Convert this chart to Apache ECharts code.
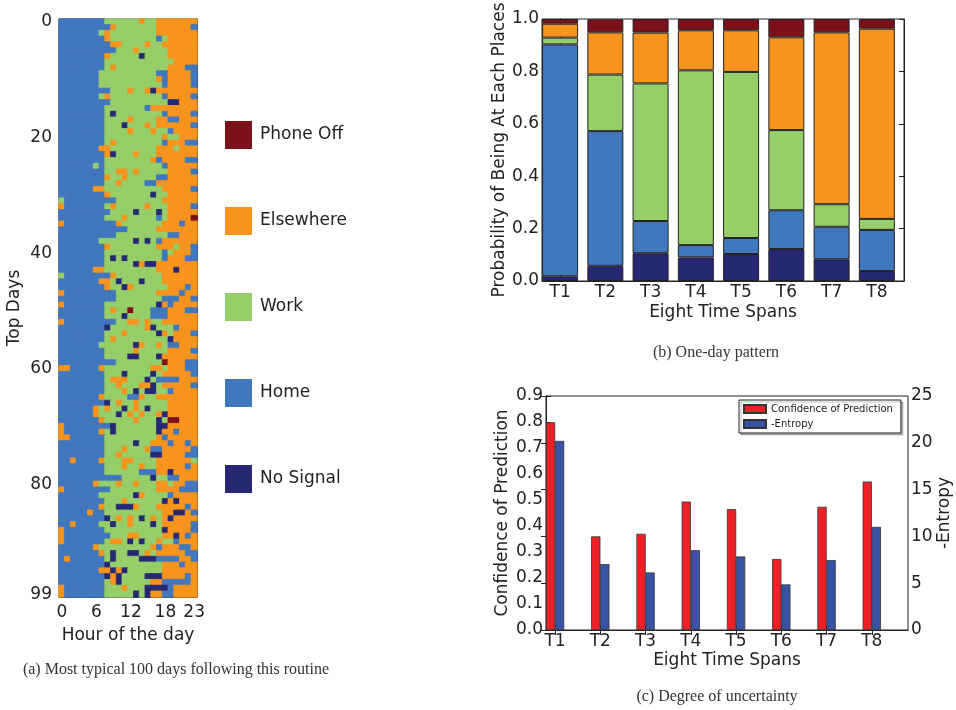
<!DOCTYPE html>
<html><head><meta charset="utf-8">
<script src="https://cdn.jsdelivr.net/npm/echarts@6.0.0/dist/echarts.min.js"></script>
<style>html,body{margin:0;padding:0;background:#fff}#c{width:956px;height:710px}</style>
</head><body><div id="c"></div>
<script>
// ---------- (a) heatmap data ----------
const hourLabels = ['0','1','2','3','4','5','6','7','8','9','10','11','12','13','14','15','16','17','18','19','20','21','22','23'];
const hourTickLabels = [0, 6, 12, 18, 23];
const dayTickLabels = [0, 20, 40, 60, 80, 99];
const placeNames = ['No Signal', 'Home', 'Work', 'Elsewhere', 'Phone Off'];
const placeCode = {N: 0, H: 1, W: 2, E: 3, O: 4};
// one string per day (row), one letter per hour: H home, W work, E elsewhere, N no signal, O phone off
const dayRows = [
'HHHHHHHH WWWWWWEWW EEEEEEE','HHHHHHHH HEWWWWWWW EEEEEEH','HHHHHHHW EWWWWWWWW EEEEEEE','HHHHHHHH EWWWWWWWW HWEEEEE',
'HHHHHHHH HEEWWWWEW WEEEEEE','HHHHHHHH HHWWWEWWW WWEEEEE','HHHHHHHH EWWWWWNWW WWEEEEE','HHHHHHHH WWWWWWWWW WWWEEEE',
'HHHHHHHH WEWWWWWWW WWEEEHH','HHHHHHHW WWWWWWWWW HHEEEEH','HHHHHHHW WWWWWWWWW EHEEEEH','HHHHHHHW WWWWWWWWW WHEEEEH',
'HHHHHHHH HWWWEWWEN EEEEEEE','HHHHHHHW EWWWWWWWW WHEEEEH','HHHHHHHH HWWWWWWWW WWNNEEE','HHHHHHHH WWWWWWWHE EEEEEEE',
'HHHHHHHH WNWWWWWWW WHEEEEH','HHHHHHHH WWWWEWWWW EEHHEEE','HHHHHHHH WWWNWWWEW EEEEEEH','HHHHHHHH WWWWEWWWE WWHEEEE',
'HHHHHHHH WWWWWWWWW WEWWEEE','HHHHHHHH WEWWWWWWW WHEEEHH','HHHHHHHE EWWWWWWWW EEEWEEE','HHHHHHHH ENWWWEWWW EEEEEEE',
'HHHHHHHH WWWWWWWWE HEEEEHH','HHHHHHWH WWWWWWWWW WHEEEEE','HHHHHHHH WWEEWEWWW WWEEEEH','HHHHHHHH EWWEWWWWW HHEEEEE',
'HHHHHHHH WWEWWWWHH EEEEEEE','HHHHHHEE WWWWWWWWW WEEEEEH','HHHHHHHH EWWWWWWWN WWEEEEE','WHHHHHHH HHWWWWWWW WEEEEEE',
'EHHHHHHH WEWWWWWEW WWEEEEH','HHHHHHHH HWWWWNWWW NWEEEEE','HHHHHHHH WWWEWWWWW HWEEEEO','EHHHHHHH HHEWWWWWW WEEEHEE',
'HHHHHHHH HHHHWWWWW EEEEEEE','HHHHHHHH HHWWWWWWW WWHHEEE','HHHHHHHW WWWWWNWNW HEEEEEE','HHHHHHHH EWWWWWWWW EEEWEEH',
'HHHHHHHH WWWWWWWWW WHWEEEH','HHHHHHHH WNWNWWWWW WHEEEHH','HHHHHHHH WWWWWNENN EEEEEEE','HHHHHHEE WWWWWWWWW EEENEEE',
'WHHHHHHH HEWWWWWWW WEEEEEE','HHHHHHHE EWNWWWNWW WEEEEEE','HHHHHHHH EWWNEWWWW WWEEEHE','EHHHHHHH HHWWWWWWW EEEEHEE',
'HHHHHHHH HHWWWWWWW WHHHEEH','EHHHHHHH WWWWWWWWW NEHEEEE','HHHHHHHH WEWWOWWWH HHEEEHH','HHHHHHHH WWWNWWWWH HHEEEEE',
'EHHHHHHH HHWWEEWEW WEEEEEE','HHHHHHHH NWWWWWWEN WWWHEEE','HHHHHHHH WWWEWWWWW NEWEEEH','HHHHHHHH WEWWWWWWW WWNEEEE',
'HHHHHHHW WWWWWNEWW EWHHEEE','HHHHHHHH WWWWWEWWW WWEEEEH','HHHHHHHH WWWWNNWWW NEEEEEE','HHHHHHHH HHWWWWWWW WOEEEHH',
'EEHHHHHE WWWWWWWWE EWEEEHH','HHHHHHHH WWWNWWWWN WEEEEEH','HHHHHHHH WEEEWWWNW HHHHEEE','HHHHHHHH WWEWWWEEN WEEEEEH',
'HHHHHHHH WWWEWNWNN WWHEEEE','HHHHHHHE WWWWHHEWW EEEEEEE','HHHHHHHH NWEWWEWWW WWEEEEE','HHHHHHEW EWWNWEWNW WWEEEEE',
'HHHHHHEW WWNWEWEWW ENEEEEE','HHHHHHHE WWWWWEWWW NWOOEEE','EHHHHHHH HNWWWWWWW NNEEEEE','EHHHHHHE WNWWWWWWW NEEHEEE',
'EEHHHHHH WWWWWWWWW EHEEEEE','HHHHHHHH WWWWWNWWE EEHEEHE','HHHHHHHH WWWEWWWEH HEEEEEH','HHHHHHHH WWEWWWWWN NEEEEHH',
'HHEHHHHE WWWEEWWWW EEEEEEW','HHHHHHHH WWWEWWEWW EEEEEHE','HHHHHHHH WWWWWWHHH EENEEEE','HHHHHHHH HHHWWWWWN WWHHEEE',
'HHHHHHEW WWEWWEWWW EEWEEHH','EHHHHHHH HWWWWWWWW EEEEHHH','HHHHHHHW WWWWWNEWW WWHEEEE','HHHHHHHH WWWEWWWWW WNENEEE',
'HHHHHHHE WWNNNEWWW EEEEEHE','HHHHHEHH WWWWWWWWW WEENNEH','HHHHHHHH NWEWEWNWE WENEEEE','HHEHHHHW WNWWEWWWN WEEEEEH',
'EHHHHHHH WWWWWWWWW WNEEEEH','EHHHHHHH HWWWEEWWW WEENEHE','EHHHHHHH WEEWNWNWW EWWHEEE','HHHHHHEW WWWWWWWWE HEEEHHE',
'HHHHHHHE WNWWNNWEW EEEEEHH','HEHHHHHH WNWWWWNNN HHHHEEH','HHHHHHHH NWWWWWWWW WEEEHEE','HHHHHHHE ENENWWWWW WEEEEEE',
'HHHHHHHH NENWWWWNN NEEEEHE','HHHHHHHH WENWWWWWE EHHHHHE','EHHHHHHH WWWEWWWNN NNHEEEE','EHHHHHHH WWWWWNWNE EHHEEEE'
];
const dayLabels = dayRows.map((r, i) => String(i));

// ---------- (b) one-day pattern ----------
const spans = ['T1','T2','T3','T4','T5','T6','T7','T8'];
const noSignal  = [0.018, 0.058, 0.106, 0.090, 0.103, 0.122, 0.083, 0.038];
const home      = [0.885, 0.514, 0.123, 0.047, 0.061, 0.148, 0.124, 0.157];
const work      = [0.026, 0.216, 0.525, 0.667, 0.634, 0.306, 0.086, 0.042];
const elsewhere = [0.053, 0.161, 0.194, 0.153, 0.159, 0.354, 0.656, 0.726];
const phoneOff  = [0.018, 0.050, 0.052, 0.043, 0.043, 0.070, 0.051, 0.037];

// ---------- (c) degree of uncertainty ----------
const confidence = [0.799, 0.360, 0.370, 0.494, 0.465, 0.273, 0.474, 0.571];
const negEntropy = [20.2, 7.04, 6.15, 8.53, 7.86, 4.87, 7.47, 11.02];

// ---------- styling ----------
const placeColors = ['#262874', '#4177bd', '#96ce6a', '#f7941e', '#7d111a'];
const FONT = 'DejaVu Sans';
const INK = '#222';
const heat = [];
dayRows.forEach((row, r) => {
  row.replace(/ /g, '').split('').forEach((ch, c) => {
    const code = placeCode[ch];
    // same-colour hairline border hides anti-aliasing seams between fractional-size cells
    heat.push({value: [c, r, code], itemStyle: {borderColor: placeColors[code], borderWidth: 0.8}});
  });
});

const lineSty = {lineStyle: {color: INK, width: 1}};
const tickSty = {inside: true, length: 5, lineStyle: {color: INK, width: 1}};
const labSty = {color: INK, fontSize: 17, fontFamily: FONT};
const nameSty = {color: INK, fontSize: 17, fontFamily: FONT};

const posTop = spans.map((s, i) => i);
const posBottom = spans.map((s, i) => i + 0.2);

const chart = echarts.init(document.getElementById('c'), null, {renderer: 'canvas'});
chart.setOption({
  animation: false,
  backgroundColor: '#fff',
  grid: [
    {left: 59, top: 19, width: 138, height: 578, show: true, borderColor: INK, borderWidth: 1, backgroundColor: 'transparent'},
    {left: 542, top: 19, width: 362, height: 262, show: true, borderColor: INK, borderWidth: 1, backgroundColor: 'transparent'},
    {left: 546, top: 396, width: 362, height: 234, show: true, borderColor: INK, borderWidth: 1, backgroundColor: 'transparent'}
  ],
  xAxis: [
    {type: 'category', gridIndex: 0, data: hourLabels, position: 'bottom',
     axisLine: lineSty,
     axisTick: Object.assign({}, tickSty, {alignWithLabel: true, interval: (i) => hourTickLabels.includes(i)}),
     axisLabel: Object.assign({}, labSty, {margin: 7, interval: (i) => hourTickLabels.includes(i)}),
     name: 'Hour of the day', nameLocation: 'middle', nameGap: 30, nameTextStyle: nameSty},
    {type: 'category', gridIndex: 0, data: hourLabels, position: 'top',
     axisLine: lineSty,
     axisTick: Object.assign({}, tickSty, {alignWithLabel: true, interval: (i) => hourTickLabels.includes(i)}),
     axisLabel: {show: false}},
    {type: 'value', gridIndex: 1, min: -0.4, max: 7.6, position: 'bottom', splitLine: {show: false},
     axisLine: lineSty,
     axisTick: Object.assign({}, tickSty, {customValues: posTop}),
     axisLabel: Object.assign({}, labSty, {margin: 3, customValues: posTop, formatter: (v) => spans[Math.round(v)]}),
     name: 'Eight Time Spans', nameLocation: 'middle', nameGap: 23, nameTextStyle: nameSty},
    {type: 'value', gridIndex: 2, min: 0, max: 8, position: 'bottom', splitLine: {show: false},
     axisLine: lineSty,
     axisTick: Object.assign({}, tickSty, {customValues: posBottom}),
     axisLabel: Object.assign({}, labSty, {margin: 3, customValues: posBottom, formatter: (v) => spans[Math.round(v - 0.2)]}),
     name: 'Eight Time Spans', nameLocation: 'middle', nameGap: 22, nameTextStyle: nameSty},
    {type: 'value', gridIndex: 2, min: 0, max: 8, position: 'top', splitLine: {show: false},
     axisLine: lineSty,
     axisTick: Object.assign({}, tickSty, {customValues: posBottom}),
     axisLabel: {show: false}}
  ],
  yAxis: [
    {type: 'category', gridIndex: 0, data: dayLabels, inverse: true, position: 'left',
     axisLine: lineSty,
     axisTick: Object.assign({}, tickSty, {alignWithLabel: true, interval: (i) => dayTickLabels.includes(i)}),
     axisLabel: Object.assign({}, labSty, {margin: 7, interval: (i) => dayTickLabels.includes(i)}),
     name: 'Top Days', nameLocation: 'middle', nameGap: 36, nameTextStyle: nameSty},
    {type: 'category', gridIndex: 0, data: dayLabels, inverse: true, position: 'right',
     axisLine: lineSty,
     axisTick: Object.assign({}, tickSty, {alignWithLabel: true, interval: (i) => dayTickLabels.includes(i)}),
     axisLabel: {show: false}},
    {type: 'value', gridIndex: 1, min: 0, max: 1, interval: 0.2, position: 'left', splitLine: {show: false},
     axisLine: lineSty, axisTick: tickSty,
     axisLabel: Object.assign({}, labSty, {margin: 3, formatter: (v) => v.toFixed(1)}),
     name: 'Probability of Being At Each Places', nameLocation: 'middle', nameGap: 34, nameTextStyle: nameSty},
    {type: 'value', gridIndex: 1, min: 0, max: 1, interval: 0.2, position: 'right', splitLine: {show: false},
     axisLine: lineSty, axisTick: tickSty, axisLabel: {show: false}},
    {type: 'value', gridIndex: 2, min: 0, max: 0.9, interval: 0.1, position: 'left', splitLine: {show: false},
     axisLine: lineSty, axisTick: tickSty,
     axisLabel: Object.assign({}, labSty, {margin: 3, formatter: (v) => v.toFixed(1)}),
     name: 'Confidence of Prediction', nameLocation: 'middle', nameGap: 35, nameTextStyle: nameSty},
    {type: 'value', gridIndex: 2, min: 0, max: 25, interval: 5, position: 'right', splitLine: {show: false},
     axisLine: lineSty, axisTick: tickSty,
     axisLabel: Object.assign({}, labSty, {margin: 3}),
     name: '-Entropy', nameLocation: 'middle', nameGap: 27, nameTextStyle: nameSty}
  ],
  visualMap: {
    type: 'piecewise', seriesIndex: 0, dimension: 2,
    pieces: [4, 3, 2, 1, 0].map(v => ({value: v, label: placeNames[v], color: placeColors[v]})),
    orient: 'vertical', left: 225, top: 121, itemWidth: 27, itemHeight: 28, itemGap: 58,
    itemSymbol: 'rect', textGap: 8, align: 'left', selectedMode: false, hoverLink: false, padding: 0,
    textStyle: {fontSize: 17, color: INK, fontFamily: FONT}
  },
  legend: {
    data: ['Confidence of Prediction', '-Entropy'], orient: 'vertical',
    left: 739, top: 400, padding: [4, 8, 4, 4], itemWidth: 22, itemHeight: 8, itemGap: 5,
    backgroundColor: '#fff', borderColor: INK, borderWidth: 1, borderRadius: 0,
    shadowColor: 'rgba(0,0,0,0.25)', shadowOffsetX: 2, shadowOffsetY: 2, shadowBlur: 0,
    selectedMode: false, icon: 'rect',
    textStyle: {fontSize: 10, color: INK, fontFamily: FONT}
  },
  graphic: [
    {type: 'text', x: 176, y: 670, style: {text: '(a) Most typical 100 days following this routine', textAlign: 'center', textVerticalAlign: 'middle', font: '16px "Liberation Serif"', fill: '#333'}},
    {type: 'text', x: 716, y: 353, style: {text: '(b) One-day pattern', textAlign: 'center', textVerticalAlign: 'middle', font: '16px "Liberation Serif"', fill: '#333'}},
    {type: 'text', x: 717, y: 697, style: {text: '(c) Degree of uncertainty', textAlign: 'center', textVerticalAlign: 'middle', font: '16px "Liberation Serif"', fill: '#333'}}
  ],
  series: [
    {type: 'heatmap', xAxisIndex: 0, yAxisIndex: 0, data: heat, emphasis: {disabled: true}, progressive: 0},
    // value stored first so that it is the stacked dimension; position second
    ...[['No Signal', noSignal], ['Home', home], ['Work', work], ['Elsewhere', elsewhere], ['Phone Off', phoneOff]].map(([nm, arr], k) => ({
      type: 'bar', name: nm, xAxisIndex: 2, yAxisIndex: 2, stack: 'places', barWidth: 36,
      encode: {x: 1, y: 0},
      data: arr.map((v, i) => [v, posTop[i]]),
      itemStyle: {color: placeColors[k], borderColor: INK, borderWidth: 1},
      emphasis: {disabled: true}
    })),
    {type: 'bar', name: 'Confidence of Prediction', xAxisIndex: 3, yAxisIndex: 4, barWidth: 9.3,
     data: confidence.map((v, i) => [i + 0.1, v]),
     itemStyle: {color: '#ec2027', borderColor: '#333', borderWidth: 0.8}, emphasis: {disabled: true}},
    {type: 'bar', name: '-Entropy', xAxisIndex: 4, yAxisIndex: 5, barWidth: 9.3,
     data: negEntropy.map((v, i) => [i + 0.3, v]),
     itemStyle: {color: '#3953a4', borderColor: '#333', borderWidth: 0.8}, emphasis: {disabled: true}}
  ]
});
</script></body></html>
